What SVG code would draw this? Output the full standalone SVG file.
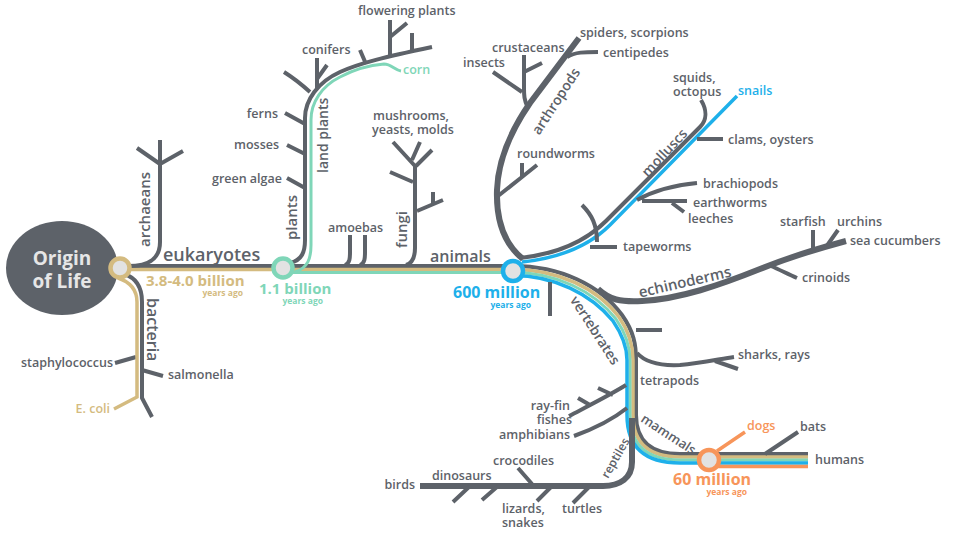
<svg xmlns="http://www.w3.org/2000/svg" width="959" height="533" viewBox="0 0 959 533">
<style>
text{font-family:"Open Sans","Liberation Sans",sans-serif;font-weight:600;fill:#5d6269;font-size:12.5px}
.g{fill:none;stroke:#5d6269;stroke-width:4;stroke-linecap:butt;stroke-linejoin:round}
.gt{fill:none;stroke:#5d6269;stroke-width:6;stroke-linecap:butt;stroke-linejoin:round}
.tan{fill:none;stroke:#d4bb80;stroke-width:3.5}
.teal{fill:none;stroke:#7fd6b8;stroke-width:3}
.blue{fill:none;stroke:#1eb0ea;stroke-width:3.5}
.orange{fill:none;stroke:#f7955a;stroke-width:3.5}
.big{font-size:16px}
.rot{font-size:14px}
.yr{font-size:8.5px;font-weight:700}
.num{font-size:15px;font-weight:700}
.node{fill:#e2e2e2;stroke-width:4.5}
</style>
<rect width="959" height="533" fill="#ffffff"/>
<g id="connectors">
  <path class="g" d="M125,266 H513"/>
  <path class="tan" d="M125,269.5 H513"/>
  <path class="teal" d="M290,272.5 H513"/>
  <path class="g" d="M128,266 C150,266 160,258 160,242 V140 M160,164 L137,148 M160,164 L183,151"/>
  <path class="g" d="M124,274 C137,278 142,288 142,302 V398 L152,417 M142,370 L163,376 M136,357 L115,363"/>
  <path class="tan" d="M118,278 C130,282 137,290 137,302 V397 L114,409"/>
  <path class="g" d="M290,263 C302,260 305,252 305,240 V118 C305,100 318,82 340,72 C360,63 385,57 432,47"/>
  <path class="teal" d="M295,272 C308,268 311,258 311,245 V120 C311,102 322,86 340,77 C355,69 372,65 384,64 C391,64 395,70 401,71"/>
  <path class="g" d="M287,178 L305,188 M287,145 L305,154 M285,113 L305,124 M310,92 C300,83 292,77 284,72 M317,88 V58 M317,79 L327,65 M360,50 L366,64 M390,58 V20 M390,37 L407,23 M412,52 V33"/>
  <path class="g" d="M345,265 C350,263 350,258 350,252 V235 M360,265 C365,263 365,258 365,252 V235"/>
  <path class="g" d="M406,265 C413,263 415,256 415,248 V166 L393,142 M412,160 L420,142 M416,166 L432,150 M413,182 L390,172 M417,211 L443,200 M433,205 V192"/>
  <path class="g" d="M513,266 C560,266 600,285 622,315 C634,332 636,345 636,360 V415 C636,440 650,454 680,454 H808"/>
  <path class="tan" d="M513,269.5 C558,269.5 597,288 619,317 C630,333 633,346 633,360 V415 C633,443 649,457 680,457 H808"/>
  <path class="teal" d="M513,272.5 C556,272.5 594,291 616,319 C627,335 630,347 630,360 V415 C630,446 648,460 680,460 H808"/>
  <path class="blue" d="M513,275.5 C554,275.5 591,294 613,321 C624,337 627,349 627,360 V415 C627,449 647,463 680,463 H808"/>
  <path class="orange" d="M709,466.5 H808 M717,451 L745,432"/>
  <path class="gt" d="M598,289 C610,300 620,302 642,301 C680,299 720,285 760,269 C790,257 820,248 846,241"/>
  <path class="g" d="M771,266 C780,270 788,274 797,278 M813,252 V230 M826,247 L838,230"/>
  <path class="g" d="M550,282 V316 M636,330 H662 M637,353 C645,362 660,366 680,365 C700,363 720,359 734,357 M715,361 L738,369"/>
  <path class="g" d="M626,385 C610,395 590,405 569,416 M613,395 L598,388 M590,405 L578,398 M627,408 C612,420 596,428 574,436"/>
  <path class="gt" d="M632,418 V462 C632,478 620,486 603,486 H420"/>
  <path class="g" d="M470,486 L453,502 M498,486 L482,500 M552,486 L537,501 M590,486 L573,503 M532,484 L518,468"/>
  <path class="g" d="M765,454 L798,432"/>
  <path class="gt" d="M523,259 C503,243 496,220 497,190 C498,160 510,132 530,103 L579,38"/>
  <path class="g" d="M567,57 C575,52 585,52 598,52 M528,108 C524,100 524,95 524,88 V55 M522,92 L493,72 M524,72 L542,63 M498,196 L522,177 V163 M522,177 L537,165"/>
  <path class="g" d="M520,258 C557,254 586,241 606,221 L700,127 C707,120 707,110 701,100"/>
  <path class="blue" d="M522,262 C560,258 590,245 610,225 L737,96"/>
  <path class="g" d="M697,139 H723 M637,200 C655,190 675,185 697,183 M642,201 H687 M672,203 L684,212 M582,205 C592,215 597,225 597,242 M590,247 H617"/>
</g>
<g id="origin">
  <ellipse cx="62" cy="268" rx="56" ry="47" fill="#5d6269"/>
  <text x="62" y="265" text-anchor="middle" style="font-size:19px;font-weight:700;fill:#e6e6e6">Origin</text>
  <text x="62" y="288" text-anchor="middle" style="font-size:19px;font-weight:700;fill:#e6e6e6">of Life</text>
</g>
<g id="node-eukaryotes">
  <circle class="node" cx="120" cy="268" r="9.5" stroke="#d4bb80"/>
  <text class="num" x="146" y="286" style="fill:#d4bb80">3.8-4.0 billion</text>
  <text class="yr" x="243" y="296" text-anchor="end" style="fill:#d4bb80">years ago</text>
</g>
<g id="node-plants">
  <circle class="node" cx="283" cy="268" r="9.5" stroke="#7fd6b8"/>
  <text class="num" x="259" y="294" style="fill:#7fd6b8">1.1 billion</text>
  <text class="yr" x="323" y="304" text-anchor="end" style="fill:#7fd6b8">years ago</text>
</g>
<g id="node-animals">
  <circle class="node" cx="513" cy="271" r="10" stroke="#1eb0ea"/>
  <text class="num" x="453" y="298" style="fill:#1eb0ea;font-size:16px">600 million</text>
  <text class="yr" x="531" y="308" text-anchor="end" style="fill:#1eb0ea">years ago</text>
</g>
<g id="node-mammals">
  <circle class="node" cx="709" cy="460" r="10" stroke="#f7955a"/>
  <text class="num" x="673" y="485" style="fill:#f7955a;font-size:16px">60 million</text>
  <text class="yr" x="747" y="495" text-anchor="end" style="fill:#f7955a">years ago</text>
</g>
<g id="labels">
  <text class="big" x="163" y="261" style="font-size:18px">eukaryotes</text>
  <text class="big" x="430" y="262">animals</text>
  <text class="rot" transform="translate(150,247) rotate(-90)" style="font-size:15px">archaeans</text>
  <text class="rot" transform="translate(147,298) rotate(90)" style="font-size:16px">bacteria</text>
  <text class="rot" transform="translate(297,240) rotate(-90)" style="font-size:15px">plants</text>
  <text class="rot" transform="translate(328,173) rotate(-90)">land plants</text>
  <text class="rot" transform="translate(407,248) rotate(-90)" style="font-size:15px">fungi</text>
  <text class="rot" text-anchor="middle" transform="translate(560,104) rotate(-57)">arthropods</text>
  <text class="rot" text-anchor="middle" transform="translate(668,156) rotate(-47)">molluscs</text>
  <text class="rot" text-anchor="middle" transform="translate(686,287) rotate(-13)" style="font-size:15px">echinoderms</text>
  <text class="rot" text-anchor="middle" transform="translate(591,333) rotate(57)">vertebrates</text>
  <text class="rot" text-anchor="middle" transform="translate(666,438) rotate(33)" style="font-size:13px">mammals</text>
  <text class="rot" text-anchor="middle" transform="translate(619,460) rotate(-60)" style="font-size:12px">reptiles</text>

  <text x="113" y="367" text-anchor="end">staphylococcus</text>
  <text x="168" y="379">salmonella</text>
  <text x="110" y="413" text-anchor="end" style="fill:#d4bb80">E. coli</text>
  <text x="282" y="183" text-anchor="end">green algae</text>
  <text x="279" y="149" text-anchor="end">mosses</text>
  <text x="278" y="118" text-anchor="end">ferns</text>
  <text x="302" y="54">conifers</text>
  <text x="358" y="15">flowering plants</text>
  <text x="403" y="74" style="fill:#7fd6b8">corn</text>
  <text x="373" y="120">mushrooms,</text>
  <text x="372" y="134">yeasts, molds</text>
  <text x="328" y="232">amoebas</text>
  <text x="463" y="67">insects</text>
  <text x="492" y="52">crustaceans</text>
  <text x="580" y="37">spiders, scorpions</text>
  <text x="603" y="57">centipedes</text>
  <text x="517" y="158">roundworms</text>
  <text x="673" y="82">squids,</text>
  <text x="673" y="96">octopus</text>
  <text x="738" y="95" style="fill:#1eb0ea">snails</text>
  <text x="728" y="144">clams, oysters</text>
  <text x="703" y="188">brachiopods</text>
  <text x="693" y="207">earthworms</text>
  <text x="688" y="223">leeches</text>
  <text x="623" y="251">tapeworms</text>
  <text x="780" y="226">starfish</text>
  <text x="837" y="226">urchins</text>
  <text x="850" y="245">sea cucumbers</text>
  <text x="802" y="282">crinoids</text>
  <text x="738" y="359">sharks, rays</text>
  <text x="640" y="385">tetrapods</text>
  <text x="570" y="410" text-anchor="end">ray-fin</text>
  <text x="572" y="424" text-anchor="end">fishes</text>
  <text x="570" y="439" text-anchor="end">amphibians</text>
  <text x="493" y="465">crocodiles</text>
  <text x="432" y="480">dinosaurs</text>
  <text x="415" y="489" text-anchor="end">birds</text>
  <text x="502" y="513">lizards,</text>
  <text x="502" y="527">snakes</text>
  <text x="562" y="513">turtles</text>
  <text x="747" y="430" style="fill:#f7955a">dogs</text>
  <text x="800" y="431">bats</text>
  <text x="815" y="464">humans</text>
</g>
</svg>
